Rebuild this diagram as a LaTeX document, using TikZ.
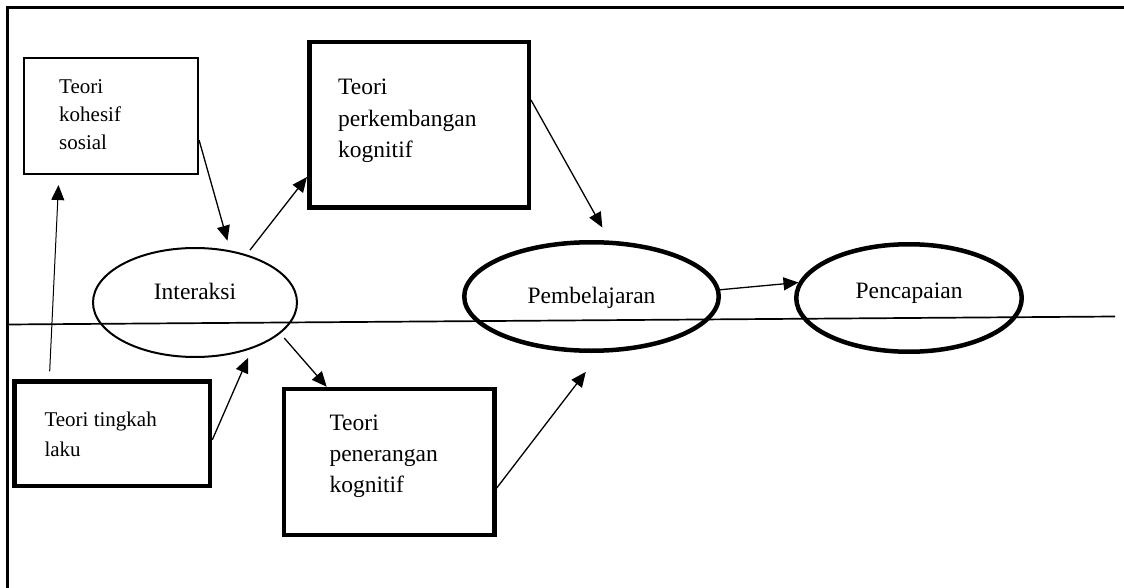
\documentclass[tikz,border=0pt]{standalone}
\usepackage{fontspec}
\setmainfont{Liberation Serif}
\usetikzlibrary{arrows.meta,shapes.geometric}
\begin{document}
\begin{tikzpicture}[x=1pt,y=-1pt,
  thinbox/.style={draw, rectangle, line width=1.7pt, inner sep=0pt},
  thickbox/.style={draw, rectangle, line width=4.5pt, inner sep=0pt},
  ell/.style={draw, ellipse, inner sep=0pt, font=\fontsize{23.5}{28}\selectfont},
  txt/.style={anchor=base west, inner sep=0pt},
  bigtxt/.style={txt, font=\fontsize{23.5}{31.3}\selectfont},
  smalltxt/.style={txt, font=\fontsize{21}{27.6}\selectfont},
  arr/.style={-{Triangle[length=15pt,width=13pt]}, line width=1.3pt},
  frame/.style={line width=2.5pt},
  axis/.style={line width=1.7pt}
]
\useasboundingbox (0,0) rectangle (1124,588);
% outer frame (top and left)
\draw[frame] (1124,7.5) -- (7.5,7.5) -- (7.5,588);
% horizontal line
\coordinate (hl) at (7.5,324.5);
\coordinate (hr) at (1115,316.5);
\draw[axis] (hl) -- (hr);

% boxes
\node[thinbox, minimum width=174.4pt, minimum height=116.4pt] (kb) at (111,116) {};
\node[smalltxt] (kbt) at (59,94) {\begin{tabular}[t]{@{}l@{}}Teori\\kohesif\\sosial\end{tabular}};

\node[thickbox, minimum width=219.5pt, minimum height=165.5pt] (pk) at (419,125) {};
\node[bigtxt] (pkt) at (338,95) {\begin{tabular}[t]{@{}l@{}}Teori\\perkembangan\\kognitif\end{tabular}};

\node[thickbox, minimum width=195.5pt, minimum height=104.5pt] (tl) at (112.3,433.8) {};
\node[txt, font=\fontsize{21}{30}\selectfont] (tlt) at (44.3,426.7) {\begin{tabular}[t]{@{}l@{}}Teori tingkah\\laku\end{tabular}};

\node[thickbox, minimum width=210.5pt, minimum height=146pt] (pp) at (389.2,462) {};
\node[bigtxt] (ppt) at (329.3,430) {\begin{tabular}[t]{@{}l@{}}Teori\\penerangan\\kognitif\end{tabular}};

% ellipses
\node[ell, line width=2pt, minimum width=204pt, minimum height=109pt] (ia) at (195,302.5) {\raisebox{3.5pt}[0pt][0pt]{Interaksi}};
\node[ell, line width=4.5pt, minimum width=254.5pt, minimum height=108.5pt] (pb) at (591.5,296.5) {\raisebox{-6.8pt}[0pt][0pt]{Pembelajaran}};
\node[ell, line width=4.5pt, minimum width=225.5pt, minimum height=107.5pt] (pc) at (909,298) {\raisebox{0pt}[0pt][0pt]{Pencapaian}};

% connectors
\draw[arr, line width=1pt, shorten <=8pt, shorten >=10pt] ([xshift=37pt]tl.north west) -- ([xshift=36pt]kb.south west);
\draw[arr, shorten >=10pt] ([yshift=-24pt]kb.east) -- (ia.56);
\draw[arr, shorten <=5.5pt] (ia.43) -- ([yshift=-52pt]pk.west);
\draw[arr, shorten >=15pt] ([yshift=25pt]pk.east) -- (pb.72);
\draw[arr, shorten <=6pt] (ia.-20) -- ([xshift=45pt]pp.north west);
\draw[arr, shorten >=10pt] ([yshift=-6pt]tl.east) -- (ia.-39);
\draw[arr, shorten >=24pt] ([yshift=-26pt]pp.east) -- (pb.-81);
\draw[arr] (pb.3) -- (pc.172);
\end{tikzpicture}
\end{document}
